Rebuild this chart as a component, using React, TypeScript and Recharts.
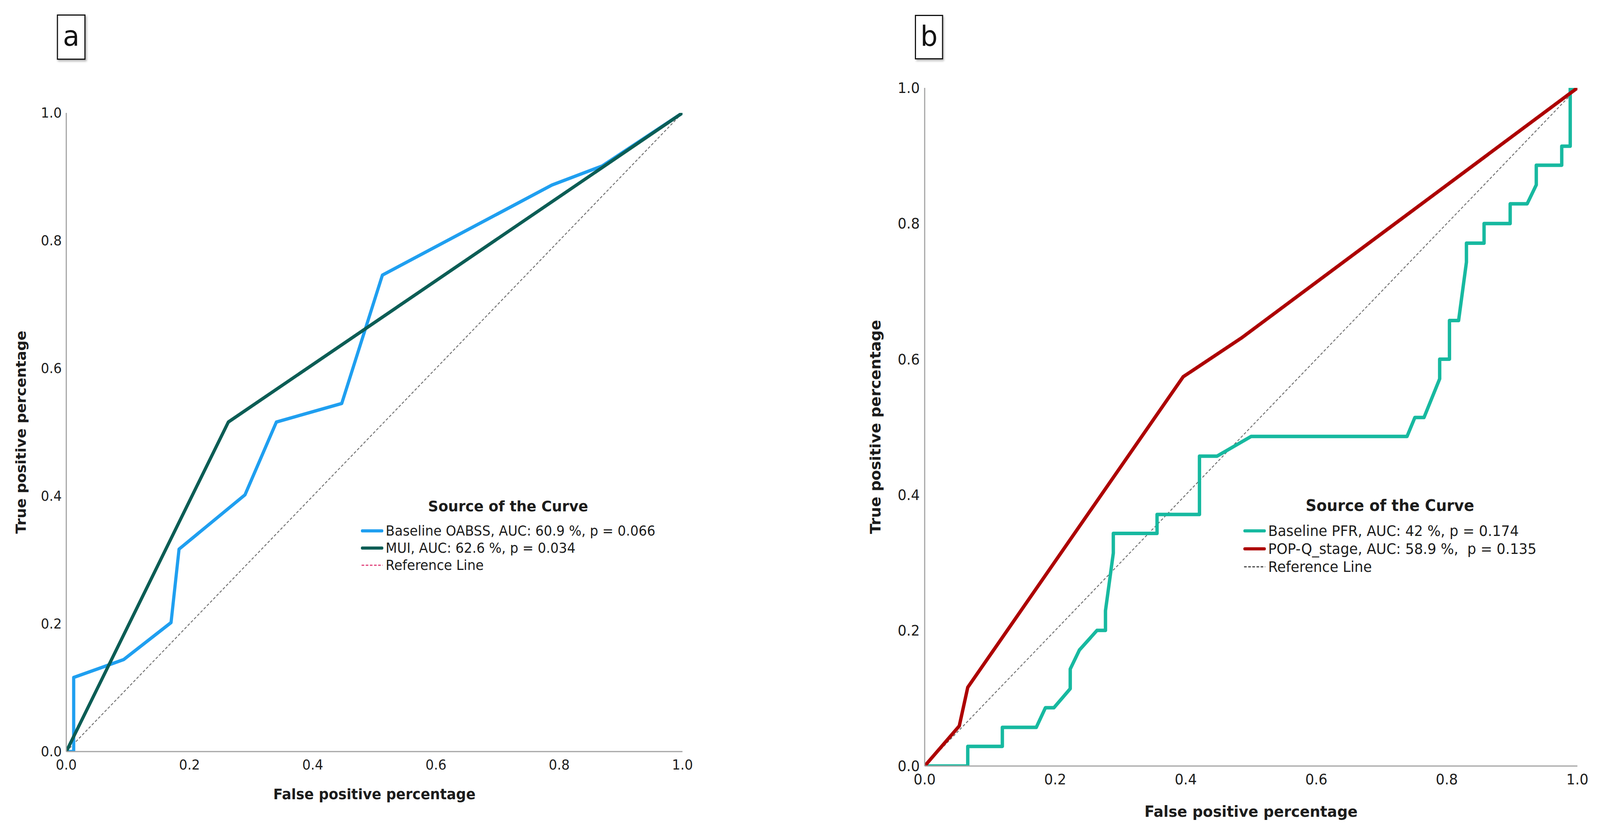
import { LineChart, Line, XAxis, YAxis, Legend } from "recharts";

const FONT = "'DejaVu Sans', Verdana, sans-serif";
const TEXT = "#1c1c1c";
const AXIS = "#a3a3a3";
const PAGE_W = 4248;
const PAGE_H = 2135;

const axisTicks = [0, 0.2, 0.4, 0.6, 0.8, 1.0];
const diagonalFpr = [0, 1];
const diagonalTpr = [0, 1];

// (a) Baseline OABSS and MUI
const oabssFpr = [0, 0.012, 0.012, 0.093, 0.17, 0.183, 0.29, 0.341, 0.447, 0.513, 0.788, 0.87, 1];
const oabssTpr = [0, 0, 0.116, 0.144, 0.202, 0.317, 0.402, 0.516, 0.545, 0.746, 0.887, 0.917, 1];
const muiFpr = [0, 0.263, 1];
const muiTpr = [0, 0.516, 1];

// (b) Baseline PFR and POP-Q stage
const pfrFpr = [
  0, 0.066, 0.066, 0.119, 0.119, 0.171, 0.185, 0.198, 0.223, 0.223, 0.237, 0.264, 0.277, 0.277,
  0.289, 0.289, 0.356, 0.356, 0.421, 0.421, 0.448, 0.5, 0.739, 0.751, 0.765, 0.789, 0.789, 0.804,
  0.804, 0.818, 0.83, 0.83, 0.857, 0.857, 0.897, 0.897, 0.923, 0.937, 0.937, 0.976, 0.976, 0.989,
  0.989, 1,
];
const pfrTpr = [
  0, 0, 0.029, 0.029, 0.057, 0.057, 0.086, 0.086, 0.114, 0.143, 0.171, 0.2, 0.2, 0.229,
  0.314, 0.343, 0.343, 0.371, 0.371, 0.457, 0.457, 0.486, 0.486, 0.514, 0.514, 0.571, 0.6, 0.6,
  0.657, 0.657, 0.743, 0.771, 0.771, 0.8, 0.8, 0.829, 0.829, 0.857, 0.886, 0.886, 0.914, 0.914,
  1, 1,
];
const popqFpr = [0, 0.053, 0.066, 0.396, 0.485, 1];
const popqTpr = [0, 0.059, 0.116, 0.574, 0.631, 1];

type Pt = { x: number; y: number };
interface Curve {
  name: string;
  color: string;
  data: Pt[];
}

const zip = (xs: number[], ys: number[]): Pt[] => xs.map((x, i) => ({ x, y: ys[i] }));

const curvesA: Curve[] = [
  { name: "Baseline OABSS, AUC: 60.9 %, p = 0.066", color: "#1f9ff0", data: zip(oabssFpr, oabssTpr) },
  { name: "MUI, AUC: 62.6 %, p = 0.034", color: "#0b5d55", data: zip(muiFpr, muiTpr) },
];

const curvesB: Curve[] = [
  { name: "Baseline PFR, AUC: 42 %, p = 0.174", color: "#17b9a0", data: zip(pfrFpr, pfrTpr) },
  { name: "POP-Q_stage, AUC: 58.9 %,\u00a0 p = 0.135", color: "#ad0000", data: zip(popqFpr, popqTpr) },
];

interface PanelProps {
  letter: string;
  left: number;
  width: number;
  margin: { top: number; right: number; bottom: number; left: number };
  curves: Curve[];
  lineWidth: number;
  refSwatch: string;
  tickFont: number;
  titleFont: number;
  xTickGap: number;
  yTickGap: number;
  xTitleOffset: number;
  yTitleOffset: number;
  legendLeft: number;
  legendTop: number;
  legendFont: number;
  legendTitleFont: number;
  legendRow: number;
  box: { left: number; top: number; width: number; height: number };
}

const Panel = (p: PanelProps) => {
  const renderLegend = () => (
    <div style={{ fontFamily: FONT, color: TEXT, whiteSpace: "nowrap" }}>
      <div
        style={{
          fontSize: p.legendTitleFont,
          fontWeight: "bold",
          textAlign: "center",
          lineHeight: `${p.legendRow}px`,
          marginBottom: 19,
        }}
      >
        Source of the Curve
      </div>
      {p.curves.map(c => (
        <div key={c.name} style={{ display: "flex", alignItems: "center", height: p.legendRow, fontSize: p.legendFont }}>
          <svg width={60} height={12} style={{ marginRight: 6 }}>
            <line x1={4} y1={6} x2={56} y2={6} stroke={c.color} strokeWidth={8} strokeLinecap="round" />
          </svg>
          <span>{c.name}</span>
        </div>
      ))}
      <div style={{ display: "flex", alignItems: "center", height: p.legendRow, fontSize: p.legendFont }}>
        <svg width={60} height={12} style={{ marginRight: 6 }}>
          <line x1={2} y1={6} x2={58} y2={6} stroke={p.refSwatch} strokeWidth={3} strokeDasharray="7 4" />
        </svg>
        <span>Reference Line</span>
      </div>
    </div>
  );

  return (
    <div style={{ position: "absolute", left: p.left, top: 0, width: p.width, height: PAGE_H }}>
      <LineChart width={p.width} height={PAGE_H} margin={p.margin}>
        <XAxis
          type="number"
          dataKey="x"
          domain={[0, 1]}
          ticks={axisTicks}
          interval={0}
          allowDataOverflow
          tickFormatter={(v: number) => v.toFixed(1)}
          tickLine={false}
          tickSize={0}
          tickMargin={p.xTickGap}
          axisLine={{ stroke: AXIS, strokeWidth: 3 }}
          tick={{ fontSize: p.tickFont, fill: TEXT, fontFamily: FONT }}
          height={140}
          label={{
            value: "False positive percentage",
            position: "insideBottom",
            offset: p.xTitleOffset,
            style: { fontSize: p.titleFont, fontWeight: "bold", fill: TEXT, fontFamily: FONT },
          }}
        />
        <YAxis
          type="number"
          dataKey="y"
          domain={[0, 1]}
          ticks={axisTicks}
          interval={0}
          allowDataOverflow
          tickFormatter={(v: number) => v.toFixed(1)}
          tickLine={false}
          tickSize={0}
          tickMargin={p.yTickGap}
          axisLine={{ stroke: AXIS, strokeWidth: 3 }}
          tick={{ fontSize: p.tickFont, fill: TEXT, fontFamily: FONT }}
          width={160}
          label={{
            value: "True positive percentage",
            angle: -90,
            position: "insideLeft",
            offset: p.yTitleOffset,
            style: { fontSize: p.titleFont, fontWeight: "bold", fill: TEXT, fontFamily: FONT, textAnchor: "middle" },
          }}
        />
        <Legend
          layout="vertical"
          align="center"
          verticalAlign="middle"
          content={renderLegend}
          wrapperStyle={{ left: p.legendLeft, top: p.legendTop, width: "auto" }}
        />
        {/* diagonal reference line, drawn first so curves sit on top */}
        <Line
          data={zip(diagonalFpr, diagonalTpr)}
          dataKey="y"
          type="linear"
          stroke="#6e6e6e"
          strokeWidth={2.4}
          strokeDasharray="7 5"
          dot={false}
          activeDot={false}
          legendType="none"
          isAnimationActive={false}
        />
        {p.curves.map(c => (
          <Line
            key={c.name}
            data={c.data}
            dataKey="y"
            name={c.name}
            type="linear"
            stroke={c.color}
            strokeWidth={p.lineWidth}
            strokeLinejoin="round"
            strokeLinecap="round"
            dot={false}
            activeDot={false}
            isAnimationActive={false}
          />
        ))}
      </LineChart>
      <div
        style={{
          position: "absolute",
          left: p.box.left,
          top: p.box.top,
          width: p.box.width,
          height: p.box.height,
          boxSizing: "border-box",
          border: "3px solid #111",
          boxShadow: "3px 4px 5px rgba(0,0,0,0.3)",
          background: "#fff",
          display: "flex",
          alignItems: "center",
          justifyContent: "center",
          fontFamily: FONT,
          fontSize: 72,
          color: "#111",
          paddingBottom: 6,
        }}
      >
        {p.letter}
      </div>
    </div>
  );
};

export default function App() {
  // the browser viewport can be narrower than the reference (it caps at 4096px),
  // so squeeze the page horizontally to keep the right-hand panel in frame
  const viewW = typeof window !== "undefined" ? window.innerWidth : PAGE_W;
  const sx = Math.min(1, viewW / PAGE_W);

  return (
    <>
      <style>{`html, body { margin: 0; padding: 0; overflow: hidden; background: #fff; }`}</style>
      <div
        style={{
          position: "fixed",
          left: 0,
          top: 0,
          width: PAGE_W,
          height: PAGE_H,
          background: "#fff",
          overflow: "hidden",
          transform: `scale(${sx}, 1)`,
          transformOrigin: "0 0",
        }}
      >
        <Panel
          letter="a"
          left={0}
          width={1900}
          margin={{ top: 289, right: 88, bottom: 71, left: 16 }}
          curves={curvesA}
          lineWidth={8.5}
          refSwatch="#e0407a"
          tickFont={35}
          titleFont={37}
          xTickGap={21}
          yTickGap={12}
          xTitleOffset={18}
          yTitleOffset={39}
          legendLeft={958}
          legendTop={1274}
          legendFont={35}
          legendTitleFont={38}
          legendRow={44}
          box={{ left: 151, top: 37, width: 76, height: 116 }}
        />
        <Panel
          letter="b"
          left={2200}
          width={2048}
          margin={{ top: 225, right: 60, bottom: 34, left: 95 }}
          curves={curvesB}
          lineWidth={9}
          refSwatch="#444444"
          tickFont={37}
          titleFont={39}
          xTickGap={21}
          yTickGap={13}
          xTitleOffset={10}
          yTitleOffset={29}
          legendLeft={1101}
          legendTop={1271}
          legendFont={37}
          legendTitleFont={40}
          legendRow={46}
          box={{ left: 229, top: 38, width: 75, height: 114 }}
        />
      </div>
    </>
  );
}
